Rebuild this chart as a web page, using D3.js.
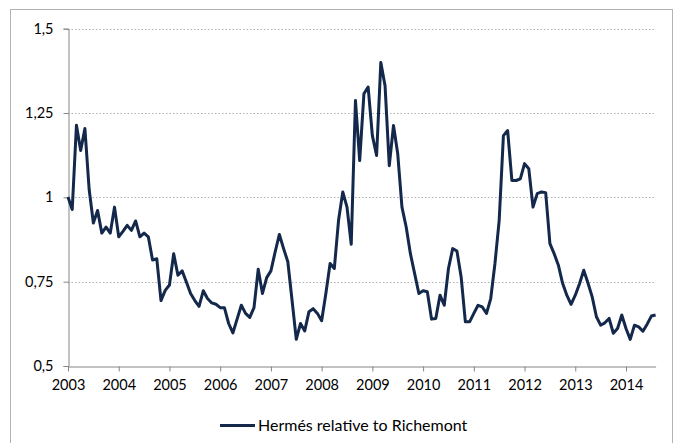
<!DOCTYPE html>
<html>
<head>
<meta charset="utf-8">
<script src="https://cdn.jsdelivr.net/npm/d3@7"></script>
<style>
  body { margin: 0; background: #fff; }
  svg text { font-family: Lato, "Open Sans", sans-serif; fill: #000; }
</style>
</head>
<body>
<div id="chart"></div>
<script>
// monthly values, one array per year (Jan..Dec)
const v2003 = [1.001, 0.964, 1.214, 1.139, 1.204, 1.024, 0.924, 0.961, 0.894, 0.912, 0.894, 0.971];
const v2004 = [0.883, 0.899, 0.917, 0.902, 0.930, 0.883, 0.894, 0.883, 0.814, 0.818, 0.694, 0.724];
const v2005 = [0.740, 0.833, 0.769, 0.782, 0.749, 0.715, 0.694, 0.677, 0.723, 0.700, 0.687, 0.683];
const v2006 = [0.673, 0.673, 0.626, 0.598, 0.639, 0.680, 0.656, 0.644, 0.673, 0.787, 0.715, 0.762];
const v2007 = [0.782, 0.838, 0.890, 0.848, 0.809, 0.695, 0.579, 0.626, 0.604, 0.661, 0.670, 0.656];
const v2008 = [0.634, 0.715, 0.804, 0.789, 0.932, 1.016, 0.971, 0.861, 1.287, 1.109, 1.307, 1.327];
const v2009 = [1.183, 1.124, 1.400, 1.331, 1.094, 1.213, 1.129, 0.971, 0.912, 0.833, 0.774, 0.715];
const v2010 = [0.723, 0.720, 0.639, 0.641, 0.710, 0.680, 0.789, 0.848, 0.841, 0.764, 0.631, 0.631];
const v2011 = [0.656, 0.680, 0.675, 0.656, 0.700, 0.804, 0.932, 1.183, 1.198, 1.050, 1.050, 1.055];
const v2012 = [1.100, 1.085, 0.971, 1.011, 1.016, 1.014, 0.863, 0.833, 0.799, 0.745, 0.710, 0.683];
const v2013 = [0.710, 0.744, 0.784, 0.746, 0.705, 0.646, 0.621, 0.628, 0.641, 0.597, 0.611, 0.651];
const v2014 = [0.611, 0.579, 0.621, 0.616, 0.603, 0.624, 0.648, 0.651];

const yearLabels = ["2003", "2004", "2005", "2006", "2007", "2008", "2009", "2010", "2011", "2012", "2013", "2014"];
const yTicks = [0.5, 0.75, 1, 1.25, 1.5];
const yTickLabels = ["0,5", "0,75", "1", "1,25", "1,5"];
const seriesName = "Hermés relative to Richemont";

const values = [].concat(v2003, v2004, v2005, v2006, v2007, v2008, v2009, v2010, v2011, v2012, v2013, v2014);
const data = values.map((v, i) => ({ m: i, v: v }));

const width = 679, height = 443;
const plot = { left: 68, right: 655.6, top: 28.7, bottom: 366 };

const svg = d3.select("#chart").append("svg")
    .attr("width", width)
    .attr("height", height);

// chart frame
svg.append("rect")
    .attr("x", 10.5).attr("y", 9.5)
    .attr("width", 662).attr("height", 460)
    .attr("fill", "none")
    .attr("stroke", "#b3b3b3")
    .attr("stroke-width", 1);

const x = d3.scaleLinear()
    .domain([0, values.length - 1])
    .range([plot.left, plot.right]);

const y = d3.scaleLinear()
    .domain([0.5, 1.5])
    .range([plot.bottom, plot.top]);

// gridlines
svg.append("g")
    .selectAll("line")
    .data(yTicks.filter(d => d > 0.5))
    .enter()
    .append("line")
    .attr("x1", plot.left).attr("x2", plot.right)
    .attr("y1", d => Math.round(y(d)) + 0.5)
    .attr("y2", d => Math.round(y(d)) + 0.5)
    .attr("stroke", "#b0b0b0")
    .attr("stroke-dasharray", "1.5,2");

// y axis
const yAxis = svg.append("g")
    .attr("transform", `translate(${plot.left + 0.5},0)`)
    .call(d3.axisLeft(y)
        .tickValues(yTicks)
        .tickSize(5)
        .tickPadding(10)
        .tickFormat((d, i) => yTickLabels[i]));
yAxis.select(".domain").attr("stroke", "#868686");
yAxis.selectAll(".tick line").attr("stroke", "#868686");
yAxis.selectAll(".tick text").style("font-size", "14.5px");

// x axis
const xAxis = svg.append("g")
    .attr("transform", `translate(0,${Math.round(plot.bottom) + 0.5})`)
    .call(d3.axisBottom(x)
        .tickValues(yearLabels.map((d, i) => i * 12))
        .tickSize(5)
        .tickSizeOuter(0)
        .tickPadding(8)
        .tickFormat((d, i) => yearLabels[i]));
xAxis.select(".domain").attr("stroke", "#868686");
xAxis.selectAll(".tick line").attr("stroke", "#868686");
xAxis.selectAll(".tick text").style("font-size", "14.5px");

// series line
const line = d3.line()
    .x(d => x(d.m))
    .y(d => y(d.v));

svg.append("path")
    .datum(data)
    .attr("fill", "none")
    .attr("stroke", "#13284a")
    .attr("stroke-width", 3)
    .attr("stroke-linejoin", "round")
    .attr("d", line);

// legend
const legend = svg.append("g").attr("transform", "translate(220,425.5)");
legend.append("line")
    .attr("x1", 0).attr("x2", 35)
    .attr("stroke", "#13284a")
    .attr("stroke-width", 3);
legend.append("text")
    .attr("x", 38)
    .attr("dy", "0.35em")
    .style("font-size", "16px")
    .text(seriesName);
</script>
</body>
</html>
